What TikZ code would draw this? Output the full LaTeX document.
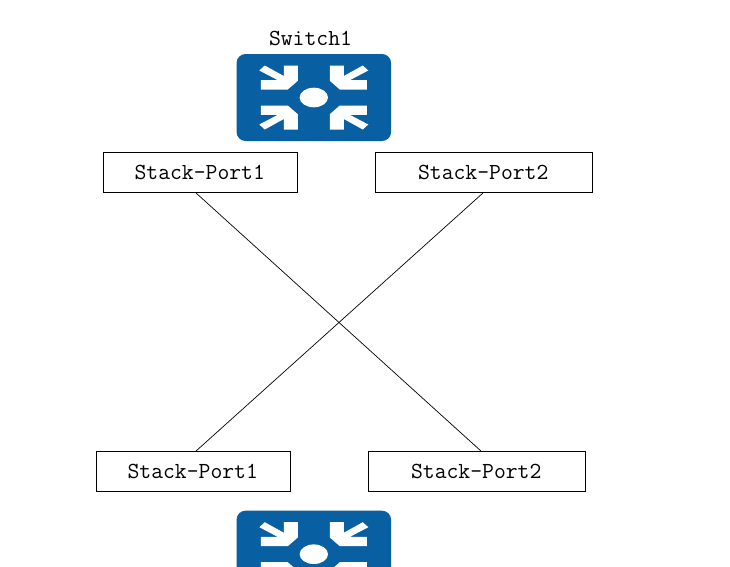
\documentclass[tikz,border=0pt]{standalone}
\usepackage{fontspec}
\definecolor{swblue}{RGB}{8,96,163}
\tikzset{
  portbox/.style={draw=black,line width=0.9pt,fill=white,minimum height=40pt,inner sep=0pt,font=\fontsize{23pt}{24pt}\selectfont\ttfamily},
  iconbox/.style={fill=swblue,rounded corners=9pt,minimum width=154.5pt,minimum height=87pt,inner sep=0pt},
  wire/.style={draw=black,line width=0.7pt},
  caption/.style={font=\fontsize{23pt}{24pt}\selectfont\ttfamily,inner sep=0pt}
}
\newcommand{\cornerarrow}{\fill[white] (-49,-32) -- (-30,-21.5) -- (-30,-32) -- (-16,-32) -- (-16,-16.7) -- (-26,-8) -- (-53,-8) -- (-53,-17.3) -- (-36,-17.3) -- (-54.5,-27) -- cycle;}
\newcommand{\switchmarks}[1]{%
  \begin{scope}[shift={(#1.center)}]
    \begin{scope}\cornerarrow\end{scope}
    \begin{scope}[xscale=-1]\cornerarrow\end{scope}
    \begin{scope}[yscale=-1]\cornerarrow\end{scope}
    \begin{scope}[xscale=-1,yscale=-1]\cornerarrow\end{scope}
    \fill[white] (0,0) ellipse [x radius=14.2,y radius=9.8];
  \end{scope}}
\begin{document}
\begin{tikzpicture}[x=1pt,y=-1pt]
\clip (0,0) rectangle (730,566);
\fill[white] (0,0) rectangle (730,566);
\node[caption] (label1) at (310.5,38) {Switch1};
\node[iconbox] (sw1) at (313.8,97.5) {};
\switchmarks{sw1}
\node[iconbox,anchor=north] (sw2) at (313.8,510.5) {};
\switchmarks{sw2}
\node[portbox,minimum width=194pt] (tl) at (200.5,172.5) {\raisebox{0.8pt}{\hspace{-1.5pt}Stack-Port1}};
\node[portbox,minimum width=217pt] (tr) at (484,172.5) {\raisebox{0.8pt}{\hspace{-1.5pt}Stack-Port2}};
\node[portbox,minimum width=194pt] (bl) at (193.5,471.5) {\raisebox{0.8pt}{\hspace{-1.5pt}Stack-Port1}};
\node[portbox,minimum width=217pt] (br) at (477,471.5) {\raisebox{0.8pt}{\hspace{-1.5pt}Stack-Port2}};
\draw[wire] ([xshift=-4.5pt]tl.south) -- ([xshift=4pt]br.north);
\draw[wire] ([xshift=-1pt]tr.south) -- ([xshift=2.5pt]bl.north);
\end{tikzpicture}
\end{document}
